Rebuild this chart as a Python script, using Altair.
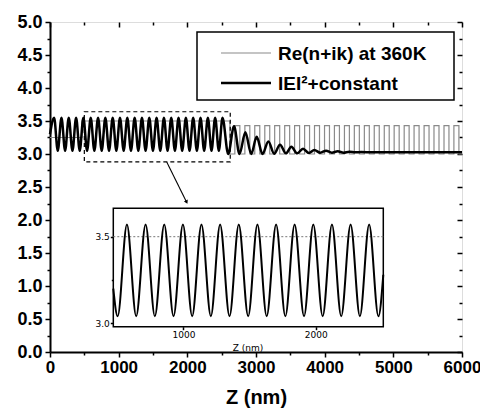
import altair as alt
import pandas as pd

# ---------------- data ----------------
# |E|^2 + constant : positions of extrema (nm) and values
e_z = [0, 60, 113, 167, 220, 273, 327, 380, 433, 486, 540, 593, 646, 700, 753,
       806, 860, 913, 966, 1019, 1073, 1126, 1179, 1233, 1286, 1339, 1392, 1446,
       1499, 1552, 1606, 1659, 1712, 1766, 1819, 1872, 1925, 1979, 2032, 2085,
       2139, 2192, 2245, 2299, 2352, 2405, 2459, 2512, 2595, 2680, 2760, 2845,
       2930, 3010, 3095, 3180, 3265, 3350, 3435, 3515, 3600, 3685, 3770, 3850,
       3935, 4020, 4105, 4190, 4275, 4360, 4445, 4530, 4700, 6000]
e_v = [3.30, 3.55, 3.05, 3.55, 3.05, 3.55, 3.05, 3.55, 3.05, 3.55, 3.05, 3.55,
       3.05, 3.55, 3.05, 3.55, 3.05, 3.55, 3.05, 3.55, 3.05, 3.55, 3.05, 3.55,
       3.05, 3.55, 3.05, 3.55, 3.05, 3.55, 3.05, 3.55, 3.05, 3.55, 3.05, 3.55,
       3.05, 3.55, 3.05, 3.55, 3.05, 3.55, 3.05, 3.55, 3.05, 3.55, 3.05, 3.55,
       3.00, 3.42, 3.00, 3.33, 3.00, 3.26, 3.00, 3.19, 3.005, 3.14, 3.01, 3.11,
       3.01, 3.08, 3.015, 3.06, 3.02, 3.05, 3.02, 3.04, 3.02, 3.035, 3.025, 3.03,
       3.025, 3.025]

# Re(n+ik) at 360K : step profile (start of each layer, value)
n_z = [0, 465, 2620, 2692, 2765, 2838, 2910, 2982, 3055, 3128, 3200, 3272, 3345,
       3418, 3490, 3562, 3635, 3708, 3780, 3852, 3925, 3998, 4070, 4142, 4215,
       4288, 4360, 4432, 4505, 4578, 4650, 4722, 4795, 4868, 4940, 5012, 5085,
       5158, 5230, 5302, 5375, 5448, 5520, 5592, 5665, 5738, 5810, 5882, 5955, 6000]
n_v = [3.25, 3.5, 3.0, 3.43, 3.0, 3.43, 3.0, 3.43, 3.0, 3.43, 3.0, 3.43, 3.0,
       3.43, 3.0, 3.43, 3.0, 3.43, 3.0, 3.43, 3.0, 3.43, 3.0, 3.43, 3.0, 3.43,
       3.0, 3.43, 3.0, 3.43, 3.0, 3.43, 3.0, 3.43, 3.0, 3.43, 3.0, 3.43, 3.0,
       3.43, 3.0, 3.43, 3.0, 3.43, 3.0, 3.43, 3.0, 3.43, 3.0, 3.0]

# inset curve
in_z = [470, 503, 573, 643, 714, 784, 855, 925, 996, 1066, 1136, 1207, 1277, 1348,
        1418, 1489, 1559, 1629, 1700, 1770, 1840, 1911, 1981, 2052, 2122, 2192,
        2263, 2333, 2403, 2473, 2510]
in_v = [3.20, 3.04, 3.57, 3.04, 3.57, 3.04, 3.57, 3.04, 3.57, 3.04, 3.57, 3.04,
        3.57, 3.04, 3.57, 3.04, 3.57, 3.04, 3.57, 3.04, 3.57, 3.04, 3.57, 3.04,
        3.57, 3.04, 3.57, 3.04, 3.57, 3.04, 3.28]
in_ref_z = [470, 2510]
in_ref_v = [3.5, 3.5]
in_dom_z = [470, 2510]
in_dom_v = [2.98, 3.664]

box_z = [500, 2625]
box_v = [2.88, 3.64]
arrow_z = [1700, 1990]
arrow_v = [2.88, 2.27]

x_major = [0, 1000, 2000, 3000, 4000, 5000, 6000]
x_minor = [500, 1500, 2500, 3500, 4500, 5500]
y_major = [0.0, 0.5, 1.0, 1.5, 2.0, 2.5, 3.0, 3.5, 4.0, 4.5, 5.0]
y_minor = [0.25, 0.75, 1.25, 1.75, 2.25, 2.75, 3.25, 3.75, 4.25, 4.75]
in_x_ticks = [1000, 2000]
in_y_ticks = [3.0, 3.5]
in_y_minor = [3.25]

legend_labels = ["Re(n+ik) at 360K", "IEI\u00b2+constant"]

# ---------------- chart ----------------
W, H = 412, 330
FONT = "Liberation Sans"

sx = alt.Scale(domain=[0, 6000], nice=False, zero=False)
sy = alt.Scale(domain=[0, 5], nice=False, zero=False)

curve = pd.DataFrame({"z": e_z, "v": e_v})
prof = pd.DataFrame({"z": n_z, "v": n_v})
box = pd.DataFrame({"z0": [box_z[0]], "z1": [box_z[1]], "v0": [box_v[0]], "v1": [box_v[1]]})
arrow = pd.DataFrame({"z": arrow_z, "v": arrow_v})
head = pd.DataFrame({"z": [arrow_z[1]], "v": [arrow_v[1]]})
one = pd.DataFrame({"a": [0]})


def ax(values, orient, size, labels=False, offset=0, **kw):
    return alt.Axis(values=values, orient=orient, tickSize=size, labels=labels,
                    domain=False, title=None, offset=offset, grid=False,
                    tickColor="black", tickWidth=1.5, **kw)


gray = alt.Chart(prof).mark_line(interpolate="step-after", color="#8a8a8a",
                                 strokeWidth=1.2).encode(
    x=alt.X("z:Q", scale=sx, axis=alt.Axis(
        values=x_major, orient="bottom", tickSize=5, labelFontSize=17,
        labelFont=FONT, labelFontWeight="bold", labelColor="black",
        labelFlush=False, labelPadding=2, format="d", title="Z (nm)",
        titleFont=FONT, titleFontSize=20, titleFontWeight="bold",
        titleColor="black", titlePadding=12, domainColor="black",
        domainWidth=2, tickColor="black", tickWidth=1.5, grid=False)),
    y=alt.Y("v:Q", scale=sy, axis=alt.Axis(
        values=y_major, orient="left", tickSize=5, labelFontSize=18,
        labelFont=FONT, labelFontWeight="bold", labelColor="black",
        labelPadding=3, format=".1f", title=None, domainColor="black",
        domainWidth=2, tickColor="black", tickWidth=1.5, grid=False)),
)

black = alt.Chart(curve).mark_line(interpolate="monotone", color="black",
                                   strokeWidth=2.5).encode(
    x=alt.X("z:Q", scale=sx, axis=ax(x_minor, "bottom", 3)),
    y=alt.Y("v:Q", scale=sy, axis=ax(y_minor, "left", 3)),
)

dbox = alt.Chart(box).mark_rect(fillOpacity=0, stroke="black", strokeWidth=1.2,
                                strokeDash=[4, 3]).encode(
    x=alt.X("z0:Q", scale=sx, axis=ax(x_major, "bottom", 5, offset=-H)),
    x2="z1:Q",
    y=alt.Y("v0:Q", scale=sy, axis=ax(y_major, "left", 5, offset=-W)),
    y2="v1:Q",
)

arr = alt.Chart(arrow).mark_line(color="black", strokeWidth=1.1).encode(
    x=alt.X("z:Q", scale=sx, axis=ax(x_minor, "bottom", 3, offset=-H)),
    y=alt.Y("v:Q", scale=sy, axis=ax(y_minor, "left", 3, offset=-W)),
)
arrhead = alt.Chart(head).mark_point(shape="triangle-down", angle=334, filled=True,
                                     color="black", size=18, opacity=1).encode(
    x=alt.X("z:Q", scale=sx, axis=None),
    y=alt.Y("v:Q", scale=sy, axis=None),
)

# legend
leg_box = alt.Chart(one).mark_rect(fill="white", stroke="black", strokeWidth=1.5).encode(
    x=alt.value(147), x2=alt.value(404), y=alt.value(10), y2=alt.value(78))
leg_l1 = alt.Chart(one).mark_rule(color="#8a8a8a", strokeWidth=1.2).encode(
    x=alt.value(171), x2=alt.value(221), y=alt.value(31))
leg_l2 = alt.Chart(one).mark_rule(color="black", strokeWidth=2.5).encode(
    x=alt.value(171), x2=alt.value(221), y=alt.value(61))
leg_t1 = alt.Chart(one).mark_text(align="left", baseline="middle", font=FONT,
                                  fontWeight="bold", fontSize=19, color="black").encode(
    x=alt.value(228), y=alt.value(32), text=alt.value(legend_labels[0]))
leg_t2 = alt.Chart(one).mark_text(align="left", baseline="middle", font=FONT,
                                  fontWeight="bold", fontSize=19, color="black").encode(
    x=alt.value(228), y=alt.value(62), text=alt.value(legend_labels[1]))

main = alt.layer(gray, black, dbox, arr, arrhead, leg_box, leg_l1, leg_l2,
                 leg_t1, leg_t2).resolve_axis(x="independent", y="independent")

# ---------------- inset ----------------
IL, IR, IT, IB = 63.3, 333.3, 186.3, 304.7
sxi = alt.Scale(domain=in_dom_z, range=[IL, IR], nice=False, zero=False)
syi = alt.Scale(domain=in_dom_v, range=[IB, IT], nice=False, zero=False)

iframe_df = pd.DataFrame({"z0": [in_dom_z[0]], "z1": [in_dom_z[1]],
                          "v0": [in_dom_v[0]], "v1": [in_dom_v[1]]})
iframe = alt.Chart(iframe_df).mark_rect(fill="white", stroke="black",
                                        strokeWidth=1.5).encode(
    x=alt.X("z0:Q", scale=sxi, axis=ax(in_x_ticks, "bottom", 3, labels=True,
                                      offset=-(H - IB), labelFontSize=9,
                                      labelFont="DejaVu Sans", labelColor="black",
                                      labelPadding=1, labelFlush=False, format="d")),
    x2="z1:Q",
    y=alt.Y("v0:Q", scale=syi, axis=ax(in_y_ticks, "left", 3, labels=True,
                                      offset=-IL, labelFontSize=9,
                                      labelFont="DejaVu Sans", labelColor="black",
                                      labelPadding=1, format=".1f")),
    y2="v1:Q",
)
ititle = alt.Chart(one).mark_text(font="DejaVu Sans", fontSize=9, color="black",
                                  baseline="middle", align="center").encode(
    x=alt.value(198), y=alt.value(325.5), text=alt.value("Z (nm)"))

iref = alt.Chart(pd.DataFrame({"z": in_ref_z, "v": in_ref_v})).mark_line(
    color="#777777", strokeWidth=1, strokeDash=[2, 2]).encode(
    x=alt.X("z:Q", scale=sxi, axis=ax(in_x_ticks, "bottom", 3, offset=-(H - IT))),
    y=alt.Y("v:Q", scale=syi, axis=ax(in_y_ticks, "left", 3, offset=-IR)),
)
icurve = alt.Chart(pd.DataFrame({"z": in_z, "v": in_v})).mark_line(
    interpolate="monotone", color="black", strokeWidth=2).encode(
    x=alt.X("z:Q", scale=sxi, axis=None),
    y=alt.Y("v:Q", scale=syi, axis=ax(in_y_minor, "left", 2, offset=-IL)),
)

inset = alt.layer(iframe, iref, icurve, ititle).resolve_axis(x="independent", y="independent")

chart = alt.layer(main, inset).resolve_scale(
    x="independent", y="independent"
).resolve_axis(x="independent", y="independent").properties(
    width=W, height=H, autosize=alt.AutoSizeParams(type="none"),
    padding={"left": 42, "top": 14, "right": 18, "bottom": 56},
).configure_view(stroke="black", strokeWidth=2).configure(background="white")

chart.save("out.html", embed_options={"renderer": "svg", "actions": False})
